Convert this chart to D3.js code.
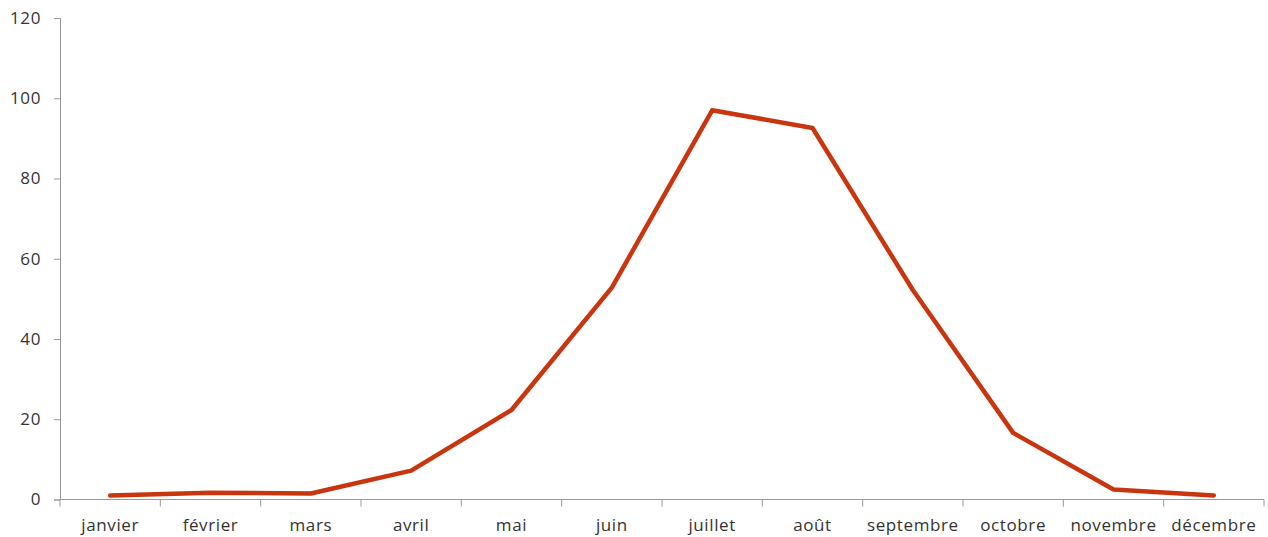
<!DOCTYPE html>
<html>
<meta charset='utf-8'>
<head>
<script src='https://cdn.jsdelivr.net/npm/d3@7'></script>
<style>
body { margin: 0; background: #fff; }
text { font-family: 'Open Sans', Lato, sans-serif; fill: #333; letter-spacing: 0.6px; }
</style>
</head>
<body>
<div id='chart'></div>
<script>
var months = ['janvier', 'février', 'mars', 'avril', 'mai', 'juin', 'juillet', 'août', 'septembre', 'octobre', 'novembre', 'décembre']
var values = [1.0, 1.7, 1.5, 7.2, 22.3, 52.8, 97.0, 92.6, 52.2, 16.6, 2.5, 1.0]
var yTicks = [0, 20, 40, 60, 80, 100, 120]

var width = 1268, height = 537
var margin = {top: 18, right: 4, bottom: 37.5, left: 60}

var svg = d3.select('#chart')
  .append('svg')
    .attr('width', width)
    .attr('height', height)

var x = d3.scaleBand()
  .domain(months)
  .range([margin.left, width - margin.right])

var y = d3.scaleLinear()
  .domain([0, 120])
  .range([height - margin.bottom, margin.top])

// y axis
var yAxis = svg.append('g')
  .attr('transform', 'translate(' + margin.left + ',0)')
  .call(d3.axisLeft(y).tickValues(yTicks).tickSize(6).tickPadding(13))
yAxis.selectAll('path, line').attr('stroke', '#999')
yAxis.selectAll('text').style('font-size', '17px')

// x axis, ticks on band boundaries
var xg = svg.append('g')
  .attr('transform', 'translate(0,' + y(0) + ')')
xg.append('line')
  .attr('x1', margin.left).attr('x2', width - margin.right)
  .attr('stroke', '#999')
var bounds = months.map(function(m) { return x(m) }).concat([x(months[11]) + x.bandwidth()])
xg.selectAll('.tk')
  .data(bounds)
  .enter()
  .append('line')
  .attr('x1', function(d) { return d }).attr('x2', function(d) { return d })
  .attr('y1', 0).attr('y2', 7)
  .attr('stroke', '#999')
xg.selectAll('.lbl')
  .data(months)
  .enter()
  .append('text')
  .attr('x', function(d) { return x(d) + x.bandwidth() / 2 })
  .attr('y', 31)
  .attr('text-anchor', 'middle')
  .style('font-size', '17px')
  .text(function(d) { return d })

var line = d3.line()
  .x(function(d, i) { return x(months[i]) + x.bandwidth() / 2 })
  .y(function(d) { return y(d) })

svg.append('path')
  .datum(values)
  .attr('d', line)
  .attr('fill', 'none')
  .attr('stroke', '#c8350e')
  .attr('stroke-width', 4.5)
  .attr('stroke-linejoin', 'round')
  .attr('stroke-linecap', 'round')
</script>
</body>
</html>
